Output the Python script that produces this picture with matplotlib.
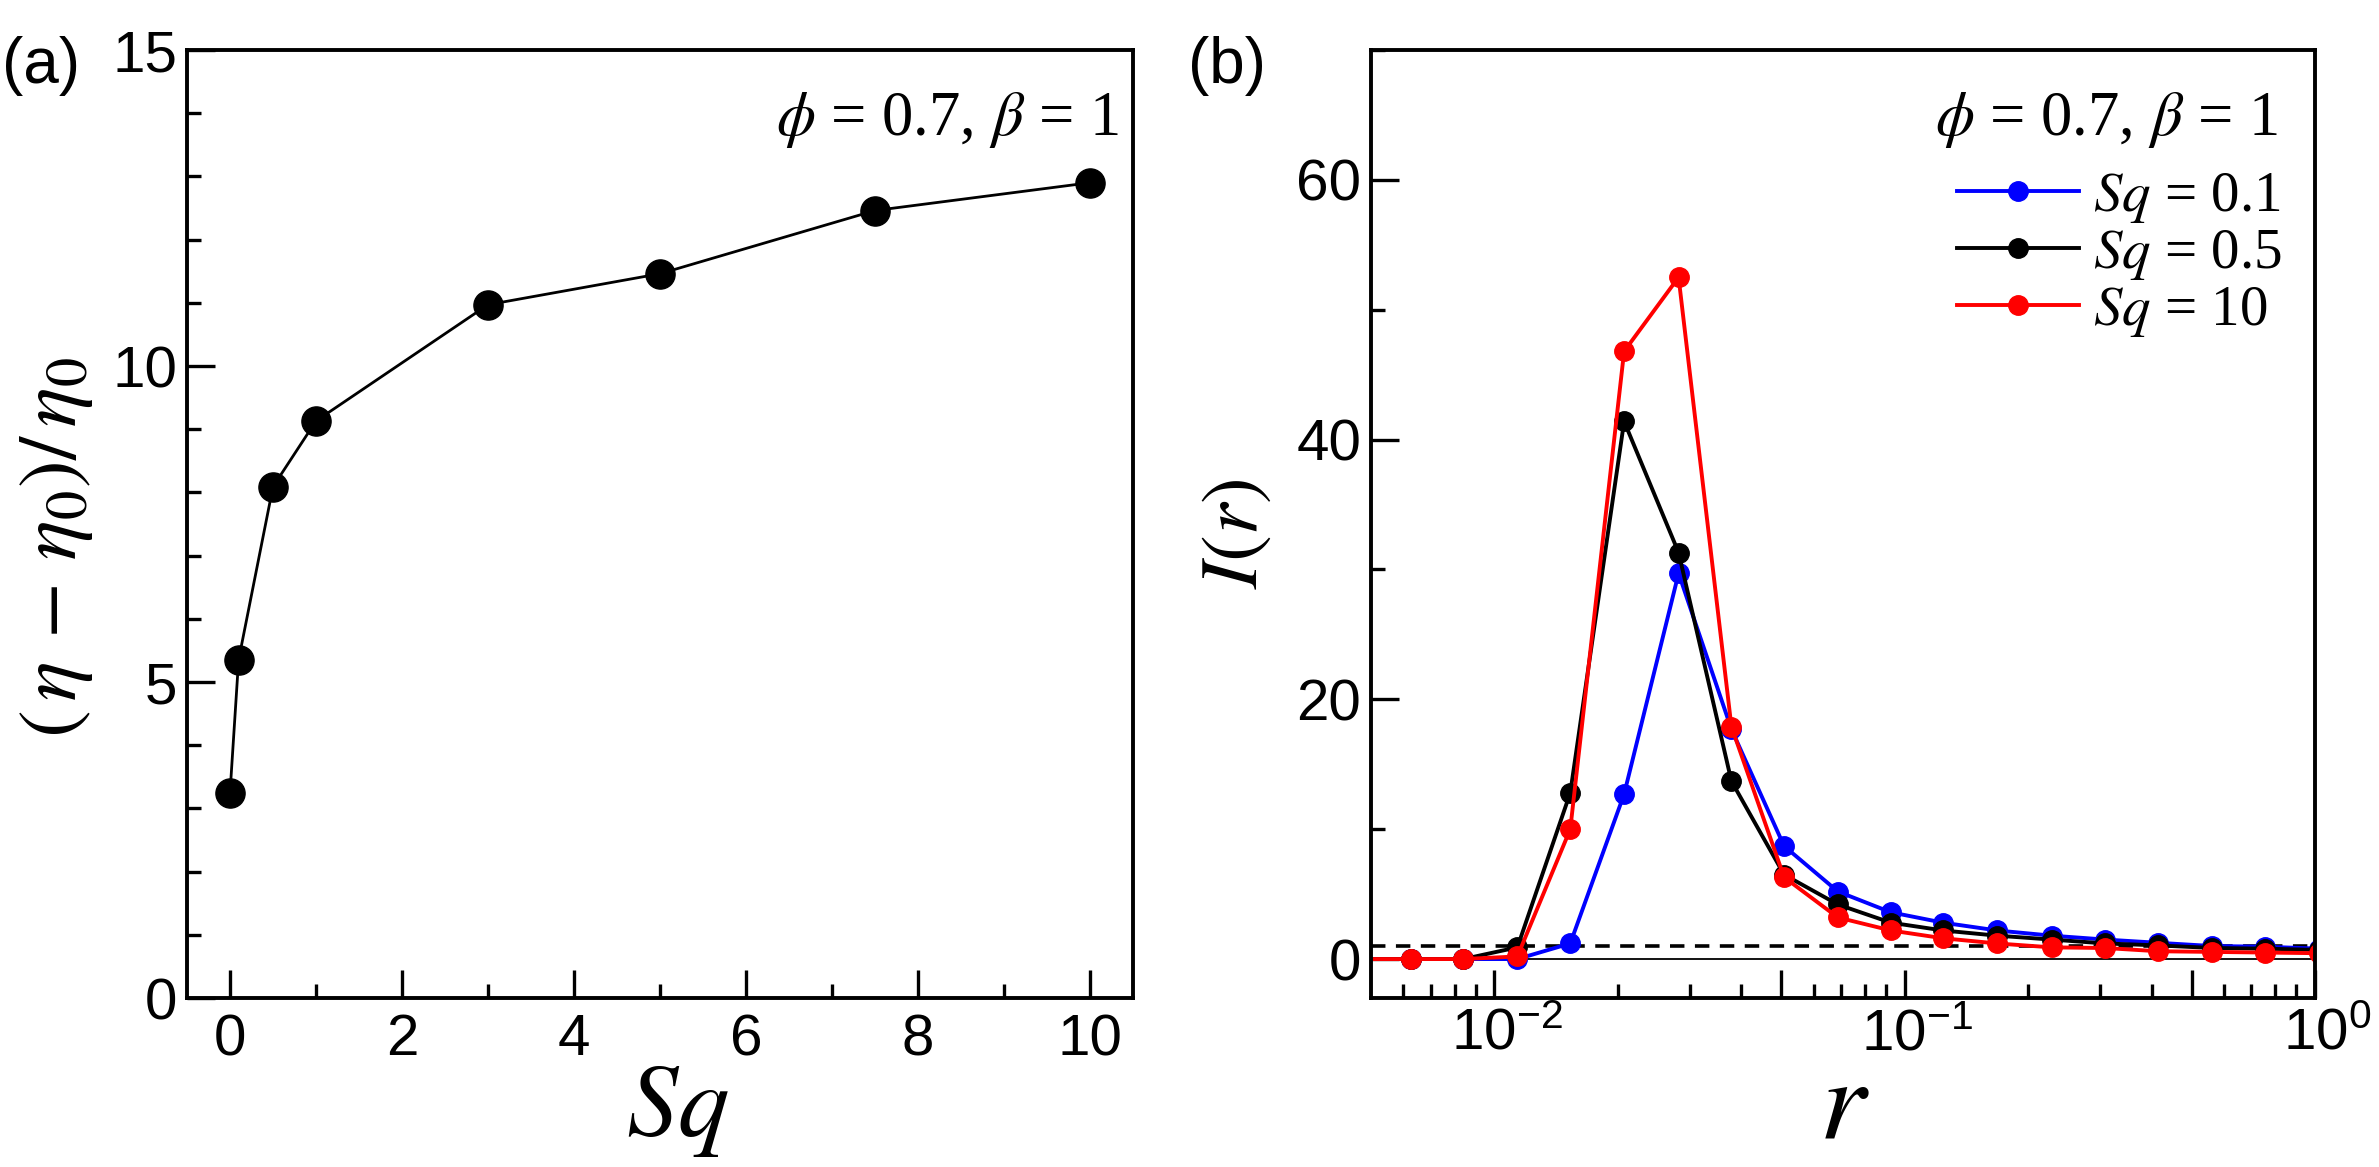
import numpy as np
import matplotlib
matplotlib.use('Agg')
import matplotlib.pyplot as plt
from matplotlib.ticker import MultipleLocator, LogLocator, NullFormatter
from matplotlib.transforms import ScaledTranslation
from matplotlib import rcParams

rcParams['font.family'] = 'Liberation Sans'
rcParams['mathtext.fontset'] = 'stix'
rcParams['axes.linewidth'] = 2.8

# panel (a): relative viscosity vs Sq
sq = [0, 0.1, 0.5, 1, 3, 5, 7.5, 10]
eta_rel = [3.24, 5.35, 8.09, 9.13, 10.97, 11.46, 12.46, 12.90]

# panel (b): I(r) for three Sq values
r = [0.00464, 0.00625, 0.0084, 0.01137, 0.0153, 0.0207, 0.0281, 0.0378, 0.0508,
     0.0687, 0.0925, 0.124, 0.168, 0.228, 0.308, 0.415, 0.562, 0.755, 1.02]
I_sq01 = [0, 0, 0, 0, 1.2, 12.7, 29.7, 17.7, 8.7, 5.2, 3.6, 2.8, 2.2, 1.8, 1.5, 1.25, 1.0, 0.95, 0.8]
I_sq05 = [0, 0, 0, 0.9, 12.8, 41.4, 31.3, 13.7, 6.5, 4.2, 2.8, 2.2, 1.8, 1.5, 1.2, 1.05, 0.85, 0.8, 0.7]
I_sq10 = [0, 0, 0, 0.2, 10.0, 46.8, 52.5, 17.9, 6.3, 3.2, 2.2, 1.6, 1.2, 0.9, 0.85, 0.6, 0.55, 0.5, 0.45]
series = [(I_sq01, 'blue', r'$Sq$ = 0.1'),
          (I_sq05, 'black', r'$Sq$ = 0.5'),
          (I_sq10, 'red', r'$Sq$ = 10')]

# log-axis major ticks (1 and 5 per decade), labels only on decades
r_major = [0.01, 0.05, 0.1, 0.5, 1]
r_major_labels = [r'$\mathdefault{10^{-2}}$', '', r'$\mathdefault{10^{-1}}$', '', r'$\mathdefault{10^{0}}$']

W, H = 2379, 1167
fig = plt.figure(figsize=(W / 100., H / 100.), dpi=100)
ax1 = fig.add_axes([187. / W, 1 - 998. / H, 946. / W, 948. / H])
ax2 = fig.add_axes([1371. / W, 1 - 998. / H, 944. / W, 948. / H])


def style(ax, xpad):
    ax.tick_params(which='both', direction='in', top=False, right=False,
                   width=2.4, labelsize=42)
    ax.tick_params(axis='x', pad=xpad)
    ax.tick_params(axis='y', pad=7)
    ax.tick_params(which='major', length=20)
    ax.tick_params(which='minor', length=10)


# (a)
ax1.plot(sq, eta_rel, '-o', color='black', lw=2.0, ms=21)
ax1.set_xlim(-0.5, 10.5)
ax1.set_ylim(0, 15)
ax1.xaxis.set_major_locator(MultipleLocator(2))
ax1.xaxis.set_minor_locator(MultipleLocator(1))
ax1.yaxis.set_major_locator(MultipleLocator(5))
ax1.yaxis.set_minor_locator(MultipleLocator(1))
style(ax1, 11)
ax1.set_xlabel(r'$Sq$', fontsize=74, va='baseline')
ax1.set_ylabel(r'$(\,\eta\,-\,\eta_0)/\,\eta_0$', fontsize=60)
ax1.yaxis.set_label_coords(-0.097, 0.475)
ax1.xaxis.set_label_coords(0.519, -0.146)
ax1.text(0.985, 0.91, r'$\phi$ = 0.7, $\beta$ = 1', transform=ax1.transAxes,
         ha='right', va='baseline', fontsize=45, family='Liberation Serif')

# (b)
ax2.axhline(0, color='black', lw=1.3, zorder=1)
ax2.axhline(1, color='black', lw=2.6, dashes=(4, 2.9), zorder=1)
for vals, c, lab in series:
    ax2.plot(r, vals, '-o', color=c, lw=2.8, ms=14, label=lab)
ax2.set_xscale('log')
ax2.set_xlim(0.005, 1)
ax2.set_ylim(-3, 70)
ax2.set_xticks(r_major, r_major_labels)
ax2.xaxis.set_minor_locator(LogLocator(base=10, subs=(2, 3, 4, 6, 7, 8, 9)))
ax2.xaxis.set_minor_formatter(NullFormatter())
ax2.yaxis.set_major_locator(MultipleLocator(20))
ax2.yaxis.set_minor_locator(MultipleLocator(10))
style(ax2, 7)
ax2.set_xlim(0.005, 1)
ax2.set_xlabel(r'$r$', fontsize=85, va='baseline')
ax2.set_ylabel(r'$I(r)$', fontsize=58)
ax2.yaxis.set_label_coords(-0.103, 0.49)
ax2.xaxis.set_label_coords(0.501, -0.148)
ax2.text(0.96, 0.91, r'$\phi$ = 0.7, $\beta$ = 1', transform=ax2.transAxes,
         ha='right', va='baseline', fontsize=45, family='Liberation Serif')
ax2.legend(loc='upper right', bbox_to_anchor=(0.965, 0.872), frameon=False,
           borderpad=0, borderaxespad=0, handlelength=2.15, handletextpad=0.25,
           labelspacing=0.05, markerscale=1.0,
           prop={'family': 'Liberation Serif', 'size': 41})

# centre the mantissa "10" on the tick, exponent hanging to the right
shift = ScaledTranslation(0.12, 0, fig.dpi_scale_trans)
for lbl in ax2.get_xticklabels():
    lbl.set_transform(lbl.get_transform() + shift)

fig.text(2. / W, 1 - 36. / H, '(a)', fontsize=46, va='top', ha='left')
fig.text(1188. / W, 1 - 36. / H, '(b)', fontsize=46, va='top', ha='left')

plt.savefig('out.png', dpi=100)
